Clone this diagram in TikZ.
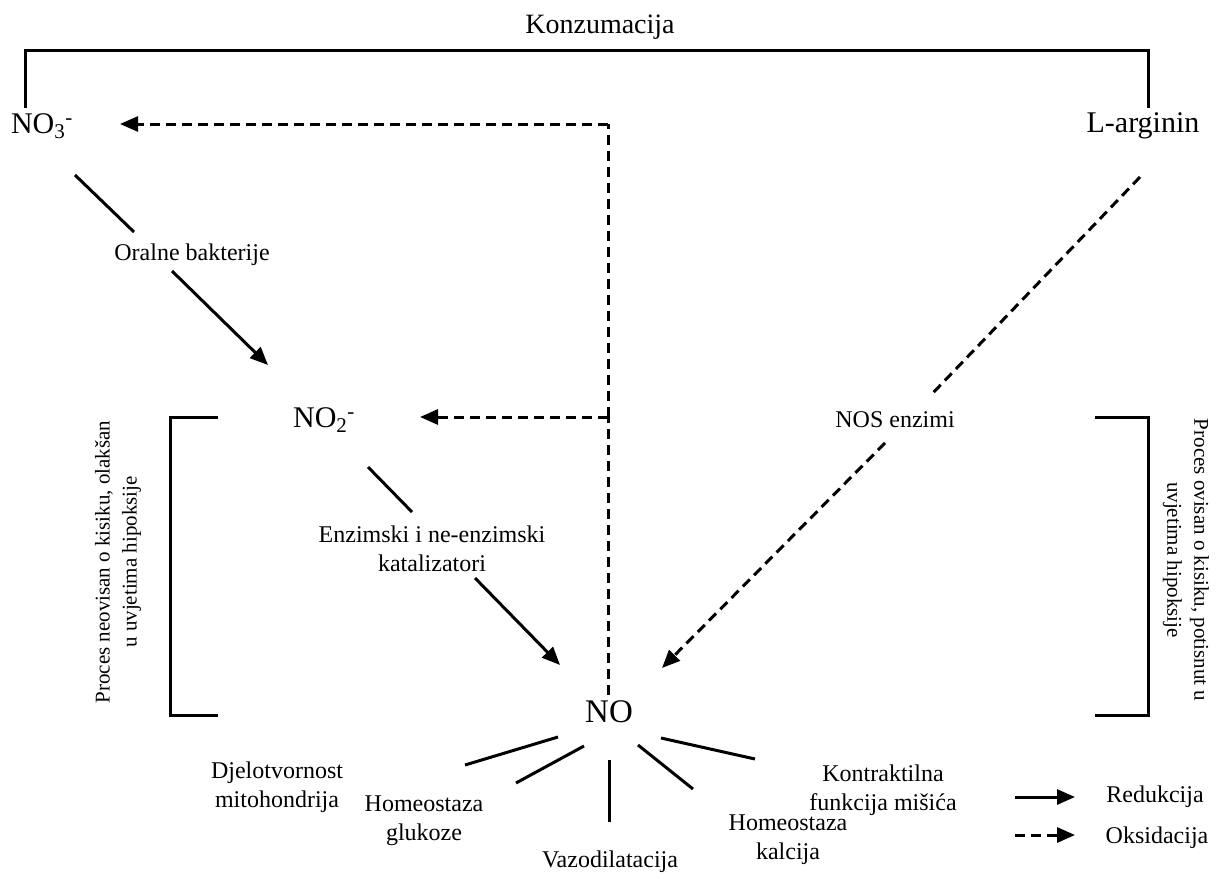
\documentclass[tikz,border=0pt]{standalone}
\usepackage{fontspec}
\setmainfont{Liberation Serif}
\usetikzlibrary{arrows.meta}
\begin{document}
\begin{tikzpicture}[x=1pt,y=-1pt,
  big/.style={font=\fontsize{30}{34}\selectfont, inner sep=0pt},
  small/.style={font=\fontsize{24}{29}\selectfont, align=center, inner sep=0pt},
  side/.style={font=\fontsize{21}{27}\selectfont, align=center, inner sep=0pt},
  ln/.style={line width=3pt},
  redarrow/.style={ln, -{Triangle[length=18pt,width=15pt]}},
  oxarrow/.style={ln, dash pattern=on 10pt off 6pt, -{Triangle[length=18pt,width=15pt]}},
  oxline/.style={ln, dash pattern=on 10pt off 6pt},
]
\path[use as bounding box, fill=white] (0,0) rectangle (1217,878);

% title and top bracket
\node[font=\fontsize{28}{31}\selectfont, inner sep=0pt] (konz) at (600,27) {Konzumacija};
\coordinate (tl) at (25,108);
\coordinate (tr) at (1148,108);
\draw[ln] (tl) -- (25,50) -- (1148,50) -- (tr);

% main species
\node[big] (no3) at (42,126) {NO\textsubscript{3}\textsuperscript{-}};
\node[big] (larg) at (1143,126) {L-arginin};
\node[big] (no2) at (324,420) {NO\textsubscript{2}\textsuperscript{-}};
\node[font=\fontsize{33}{36}\selectfont, inner sep=0pt] (no) at (609,712) {NO};

% oxidation NO -> NO2, NO3
\coordinate (nobot) at (608,695);
\coordinate (br) at (608,417);
\coordinate (corner) at (608,124);
\coordinate (tipno3) at (120,124);
\coordinate (tipno2) at (420,417);
\draw[oxline] (nobot) -- (br);
\draw[oxline] (br) -- (corner);
\draw[oxarrow] (corner) -- (tipno3);
\draw[oxarrow] (br) -- (tipno2);

% reduction NO3 -> NO2
\node[small] (oral) at (192,255) {Oralne bakterije};
\coordinate (a1) at (75,175);
\coordinate (a2) at (134,232);
\coordinate (a3) at (172,271);
\coordinate (a4) at (268,365);
\draw[ln] (a1) -- (a2);
\draw[redarrow] (a3) -- (a4);

% reduction NO2 -> NO
\node[small] (enz) at (432,549) {Enzimski i ne-enzimski\\katalizatori};
\coordinate (b1) at (368,467);
\coordinate (b2) at (412,512);
\coordinate (b3) at (475,578);
\coordinate (b4) at (560,665);
\draw[ln] (b1) -- (b2);
\draw[redarrow] (b3) -- (b4);

% L-arginin -> NO
\node[small] (nos) at (895,420) {NOS enzimi};
\coordinate (c1) at (1140,177);
\coordinate (c2) at (930,396);
\coordinate (c3) at (885,443);
\coordinate (c4) at (662,668);
\draw[oxline] (c1) -- (c2);
\draw[oxarrow] (c3) -- (c4);

% side brackets
\draw[ln] (218,417) -- (170,417) -- (170,715) -- (218,715);
\draw[ln] (1095,417) -- (1148,417) -- (1148,715) -- (1095,715);
\node[side, rotate=90] (lside) at (118,562) {Proces neovisan o kisiku, olakšan\\u uvjetima hipoksije};
\node[side, rotate=-90] (rside) at (1186,560) {Proces ovisan o kisiku, potisnut u\\uvjetima hipoksije};

% effects
\node[small] (mito) at (277,787) {Djelotvornost\\mitohondrija};
\node[small] (gluk) at (424,821) {Homeostaza\\glukoze};
\node[small] (vazo) at (610,862) {Vazodilatacija};
\node[small] (kalc) at (788,840) {Homeostaza\\kalcija};
\node[small] (kontr) at (883,790) {Kontraktilna\\funkcija mišića};
\draw[ln] (558,737) -- (465,765);
\draw[ln] (584,746) -- (516,783);
\draw[ln] (609,760) -- (609,822);
\draw[ln] (638,745) -- (693,789);
\draw[ln] (661,738) -- (755,759);

% legend
\coordinate (l1a) at (1015,797);
\coordinate (l1b) at (1075,797);
\coordinate (l2a) at (1015,835);
\coordinate (l2b) at (1075,835);
\draw[redarrow] (l1a) -- (l1b);
\draw[oxarrow] (l2a) -- (l2b);
\node[small] (redl) at (1155,797) {Redukcija};
\node[small] (oksl) at (1157,838) {Oksidacija};
\end{tikzpicture}
\end{document}
